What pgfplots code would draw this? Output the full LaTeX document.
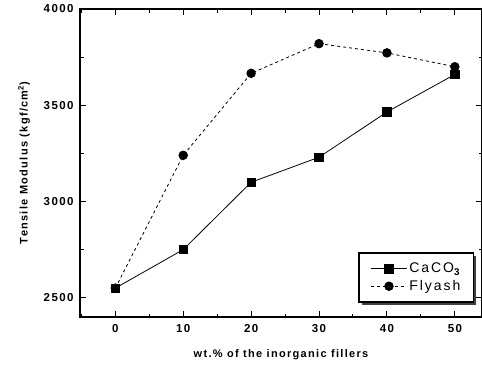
\documentclass[border=0pt]{standalone}
\usepackage{fontspec}
\setmainfont{Liberation Sans}
\newfontfamily\wide[LetterSpace=12]{Liberation Sans}
\newfontfamily\widel[LetterSpace=14]{Liberation Sans}
\usepackage{pgfplots}
\pgfplotsset{compat=1.18}
\begin{document}
\begin{tikzpicture}
\begin{axis}[
  name=ax,
  scale only axis,
  width=402pt, height=308pt,
  xmin=-5.2, xmax=54, ymin=2400, ymax=4000,
  xtick={0,10,20,30,40,50},
  minor xtick={-5,5,15,25,35,45},
  ytick={2500,3000,3500,4000},
  minor ytick={2750,3250,3750},
  tick align=inside,
  major tick length=6pt, minor tick length=3.5pt,
  axis line style={line width=1.3pt},
  every tick/.style={line width=1pt, black},
  /pgf/number format/assume math mode=true,
  /pgf/number format/1000 sep={},
  tick label style={font=\wide\bfseries\fontsize{11.5}{13}\selectfont},
  xticklabel style={yshift=-4pt},
  yticklabel style={xshift=-3pt},
  xlabel={wt.\% of the inorganic fillers},
  ylabel={Tensile Modulus (kgf/cm$^{\mathbf{2}}$)},
  every axis x label/.style={at={(axis description cs:0.5,0)}, anchor=center, yshift=-38pt, font=\wide\bfseries\fontsize{11}{13}\selectfont},
  every axis y label/.style={at={(axis description cs:-0.139,0.5)}, anchor=center, rotate=90, font=\wide\bfseries\fontsize{11}{13}\selectfont},
  legend style={at={(rel axis cs:0.837,0.128)}, anchor=center,
    draw=none, fill=none,
    font=\widel\fontsize{14}{16}\selectfont, row sep=2pt, inner sep=0pt},
  legend cell align=left,
  legend image code/.code={\draw[line width=0.8pt,mark repeat=2,mark phase=2,#1] plot coordinates {(0pt,0pt) (18pt,0pt) (36pt,0pt)};},
]
\fill[black!75] (rel axis cs:0.7015,0.0393) rectangle (rel axis cs:0.9855,0.198);
\filldraw[fill=white, draw=black, line width=1.2pt] (rel axis cs:0.694,0.049) rectangle (rel axis cs:0.978,0.208);
\addplot[black, line width=0.8pt, mark=square*, mark size=4.2pt, mark options={solid}]
  coordinates {(0,2550) (10,2750) (20,3100) (30,3230) (40,3465) (50,3660)};
\addlegendentry{CaCO$_{\mathbf{3}}$}
\addplot[black, line width=0.8pt, dashed, mark=*, mark size=4.3pt, mark options={solid}]
  coordinates {(0,2550) (10,3240) (20,3666) (30,3820) (40,3772) (50,3700)};
\addlegendentry{Flyash}
\end{axis}
\pgfresetboundingbox
\path ([xshift=-80pt,yshift=-53pt]ax.south west) rectangle ([yshift=9pt]ax.north east);
\end{tikzpicture}
\end{document}
